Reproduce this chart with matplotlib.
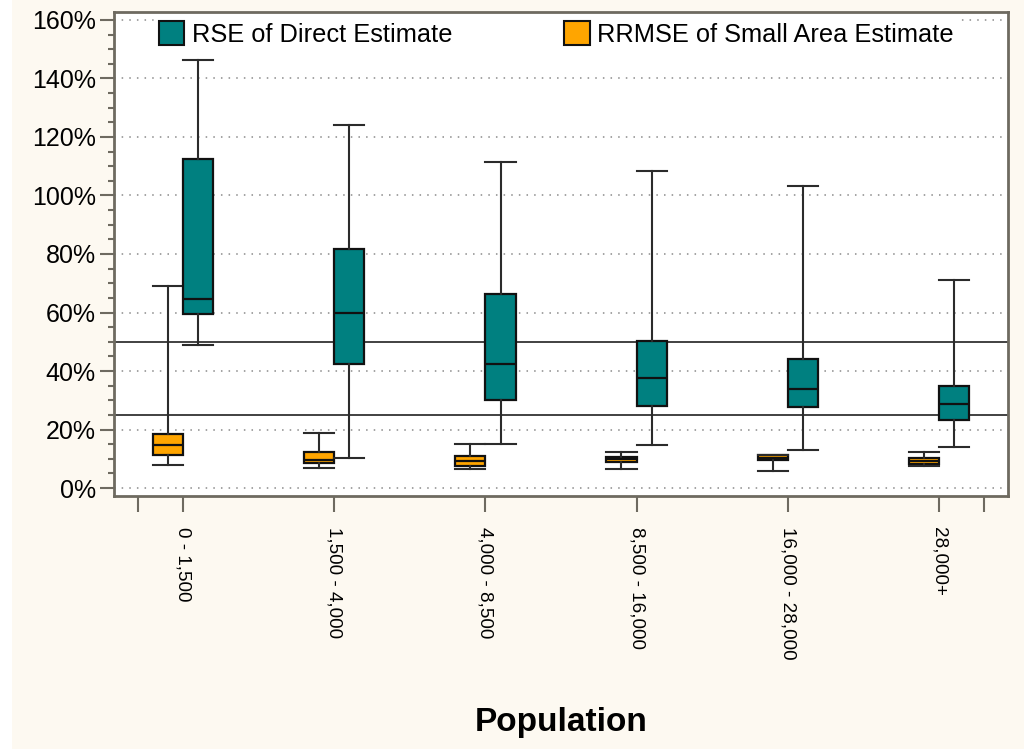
import matplotlib
matplotlib.use('Agg')
import matplotlib.pyplot as plt
import matplotlib.patches as mpatches
from matplotlib.ticker import MultipleLocator, FuncFormatter

plt.rcParams['font.family'] = ['Liberation Sans', 'DejaVu Sans']

# Population bands and box summaries (in %)
groups = ['0 - 1,500', '1,500 - 4,000', '4,000 - 8,500',
          '8,500 - 16,000', '16,000 - 28,000', '28,000+']

rse_low  = [49.0, 10.3, 15.0, 14.7, 13.0, 14.0]
rse_q1   = [59.5, 42.4, 30.0, 28.1, 27.7, 23.2]
rse_med  = [64.5, 59.8, 42.4, 37.6, 33.8, 28.7]
rse_q3   = [112.5, 81.7, 66.3, 50.3, 44.1, 34.9]
rse_high = [146.2, 124.0, 111.6, 108.3, 103.2, 71.2]

rrmse_low  = [8.0, 6.9, 6.4, 6.4, 5.9, 7.4]
rrmse_q1   = [11.2, 8.5, 7.5, 9.0, 9.5, 8.3]
rrmse_med  = [14.6, 9.5, 9.2, 9.8, 10.3, 9.4]
rrmse_q3   = [18.5, 12.4, 10.8, 10.7, 11.4, 10.3]
rrmse_high = [69.0, 18.9, 15.0, 12.4, 11.4, 12.4]

thresholds = [25, 50]

TEAL   = '#008080'
ORANGE = '#FFA500'
BG     = '#FDF9F1'
FRAME  = '#6E6A60'

def stats(lo, q1, med, q3, hi):
    return [dict(whislo=a, q1=b, med=c, q3=d, whishi=e, fliers=[])
            for a, b, c, d, e in zip(lo, q1, med, q3, hi)]

fig = plt.figure(figsize=(10.24, 7.49), dpi=100)
fig.patch.set_facecolor(BG)
fig.patches.append(mpatches.Rectangle((0, 0), 12 / 1024, 1, transform=fig.transFigure,
                                      facecolor='white', edgecolor='none', zorder=0))

ax = fig.add_axes([114 / 1024, 1 - 496 / 749, 894 / 1024, 484 / 749])
ax.set_facecolor('white')

pos = list(range(len(groups)))
W = 0.2
line_kw = dict(color='#2b2b2b', linewidth=1.5)
for data, color, off in [(stats(rrmse_low, rrmse_q1, rrmse_med, rrmse_q3, rrmse_high), ORANGE, -0.1),
                         (stats(rse_low, rse_q1, rse_med, rse_q3, rse_high), TEAL, 0.1)]:
    ax.bxp(data, positions=[p + off for p in pos], widths=W, capwidths=W,
           showfliers=False, patch_artist=True,
           boxprops=dict(facecolor=color, edgecolor='#111111', linewidth=1.6),
           medianprops=dict(color='#111111', linewidth=1.6),
           whiskerprops=line_kw, capprops=line_kw, manage_ticks=False, zorder=3)

for t in thresholds:
    ax.axhline(t, color='#333333', linewidth=1.3, zorder=2)

ax.set_ylim(-2.7, 162.7)
ax.set_xlim(-0.457, 5.457)
ax.yaxis.set_major_locator(MultipleLocator(20))
ax.yaxis.set_minor_locator(MultipleLocator(5))
ax.yaxis.set_major_formatter(FuncFormatter(lambda v, _: f'{v:.0f}%'))
ax.grid(axis='y', which='major', linestyle=(0, (1, 4)), color='#8a8a8a', linewidth=1.1, zorder=1)

ax.set_xticks(pos)
ax.set_xticklabels(groups, rotation=270, fontsize=13.6, va='top', ha='center')
ax.set_xticks([-0.3, 5.3], minor=True)

ax.tick_params(axis='y', which='major', length=10, width=1.5, color=FRAME, labelsize=18, pad=3)
ax.tick_params(axis='y', which='minor', length=4.5, width=1.5, color=FRAME)
ax.tick_params(axis='x', which='both', length=11.5, width=1.5, color=FRAME, labelsize=13.6, pad=10.5)

for sp in ax.spines.values():
    sp.set_color(FRAME)
    sp.set_linewidth(2)

handles = [mpatches.Patch(facecolor=TEAL, edgecolor='#111111', linewidth=1.5,
                          label='RSE of Direct Estimate'),
           mpatches.Patch(facecolor=ORANGE, edgecolor='#111111', linewidth=1.5,
                          label='RRMSE of Small Area Estimate')]
leg = ax.legend(handles=handles, ncol=2, loc='upper center', bbox_to_anchor=(0.495, 0.995),
                fontsize=18.3, handlelength=1.0, handleheight=1.1, handletextpad=0.3,
                columnspacing=4.4, borderpad=0.2, borderaxespad=0.05,
                frameon=True, fancybox=False, framealpha=1)
leg.get_frame().set_facecolor('white')
leg.get_frame().set_edgecolor('white')
leg.set_zorder(5)

fig.text(561 / 1024, 1 - 722 / 749, 'Population', ha='center', va='center',
         fontsize=24, fontweight='bold')

fig.savefig('out.png', dpi=100, facecolor=BG)
